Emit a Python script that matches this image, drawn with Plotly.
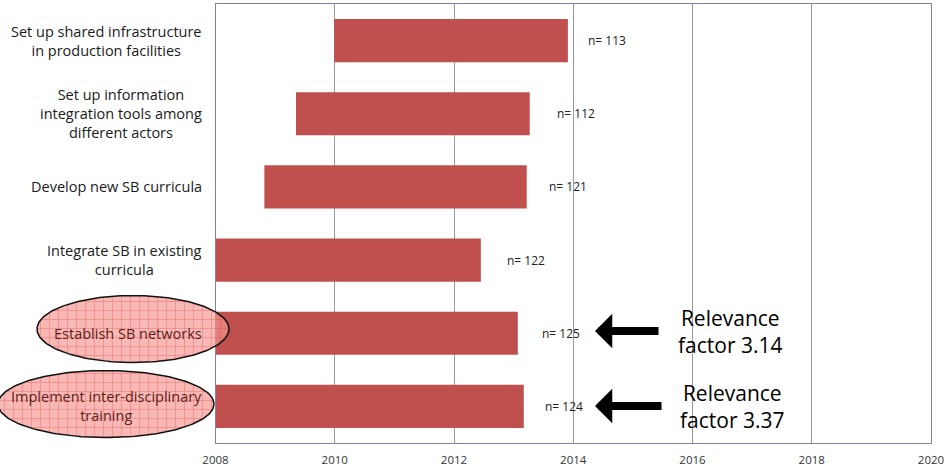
import numpy as np
import plotly.graph_objects as go

# ---------------- data ----------------
categories = [
    "Set up shared infrastructure<br>in production facilities",
    "Set up information<br>integration tools among<br>different actors",
    "Develop new SB curricula",
    "Integrate SB in existing<br>curricula",
    "Establish SB networks",
    "Implement inter-disciplinary<br>training",
]
start_year = [2009.99, 2009.35, 2008.82, 2008.0, 2008.0, 2008.0]
end_year = [2013.91, 2013.27, 2013.22, 2012.45, 2013.07, 2013.17]
n_labels = ["n= 113", "n= 112", "n= 121", "n= 122", "n= 125", "n= 124"]
n_label_x = [2014.22, 2013.70, 2013.56, 2012.86, 2013.45, 2013.50]
relevance = ["Relevance<br>factor 3.14", "Relevance<br>factor 3.37"]
highlighted = [4, 5]
x_ticks = [2008, 2010, 2012, 2014, 2016, 2018, 2020]

W, H = 945, 470
FONT = "'Open Sans', Lato, sans-serif"

fig = go.Figure()

# floating bars
fig.add_trace(go.Bar(
    y=categories,
    x=[e - s for s, e in zip(start_year, end_year)],
    base=start_year,
    orientation="h",
    marker=dict(color="#c0504d", line=dict(width=0)),
    width=0.59,
    hoverinfo="skip",
    xaxis="x", yaxis="y",
))

# overlay pixel-space axes for decorations (ellipses)
ellipses = [(133, 329, 96, 33.5), (106, 404, 108, 33.5)]
t = np.linspace(0, 2 * np.pi, 200)
for cx, cy, rx, ry in ellipses:
    fig.add_trace(go.Scatter(
        x=cx + rx * np.cos(t), y=cy + ry * np.sin(t),
        mode="lines", fill="toself",
        line=dict(color="#111111", width=1.5),
        fillcolor="rgba(244,150,145,0.68)",
        fillpattern=dict(shape="+", fgcolor="rgba(228,50,40,0.9)",
                         bgcolor="rgba(244,150,145,0.68)",
                         size=9, solidity=0.13, fillmode="overlay"),
        hoverinfo="skip", showlegend=False,
        xaxis="x2", yaxis="y2",
    ))

annotations = []
# category labels (centered multi-line, right edge near x=202px)
for i, cat in enumerate(categories):
    annotations.append(dict(
        x=204, xref="x2", xanchor="right", y=cat, yref="y", yanchor="middle",
        text=cat, showarrow=False, align="center",
        font=dict(family=FONT, size=14.5,
                  color="#5a1f1c" if i in highlighted else "#1a1a1a"),
    ))
# n labels
for i, (lab, lx) in enumerate(zip(n_labels, n_label_x)):
    annotations.append(dict(
        x=lx, xref="x", xanchor="left", y=categories[i], yref="y",
        text=lab, showarrow=False,
        font=dict(family=FONT, size=12, color="#222222"),
    ))
# arrows + relevance texts
arrow_y = [331, 406]
arrow_tail = [660, 663]
text_x = [730, 732]
for k, idx in enumerate(highlighted):
    annotations.append(dict(
        x=595, y=arrow_y[k], xref="x2", yref="y2",
        ax=arrow_tail[k], ay=arrow_y[k], axref="x2", ayref="y2",
        text="", showarrow=True, arrowhead=1, arrowsize=0.72,
        arrowwidth=8, arrowcolor="#000000", standoff=0,
    ))
    annotations.append(dict(
        x=text_x[k], y=arrow_y[k], xref="x2", yref="y2",
        text=relevance[k], showarrow=False, align="center",
        font=dict(family=FONT, size=21, color="#000000"),
    ))

fig.update_layout(
    width=W, height=H,
    margin=dict(l=0, r=0, t=0, b=0, pad=0, autoexpand=False),
    paper_bgcolor="white", plot_bgcolor="rgba(0,0,0,0)",
    showlegend=False,
    xaxis=dict(
        domain=[215.5 / W, 931 / W],
        range=[2008, 2020],
        tickvals=x_ticks, ticktext=[str(v) for v in x_ticks],
        showgrid=True, gridcolor="#9a9a9a", gridwidth=1,
        showline=True, linecolor="#8080a8", linewidth=1.2, mirror=True,
        ticks="", ticklabelstandoff=6,
        tickfont=dict(family=FONT, size=11.5, color="#333333"),
        zeroline=False, fixedrange=True, anchor="y",
    ),
    yaxis=dict(
        domain=[1 - 443 / H, 1 - 4 / H],
        categoryorder="array", categoryarray=categories[::-1],
        showticklabels=False, showgrid=False,
        showline=True, linecolor="#8080a8", linewidth=1.2, mirror=True,
        ticks="", zeroline=False, fixedrange=True, anchor="x",
    ),
    xaxis2=dict(domain=[0, 1], range=[0, W], visible=False, fixedrange=True,
                anchor="y2"),
    yaxis2=dict(domain=[0, 1], range=[H, 0], visible=False, fixedrange=True,
                anchor="x2"),
    annotations=annotations,
)

fig.write_html("out.html",
               config={"displayModeBar": False},
               post_script="document.body.style.margin='0px';"
                           "document.body.style.overflow='hidden';")
